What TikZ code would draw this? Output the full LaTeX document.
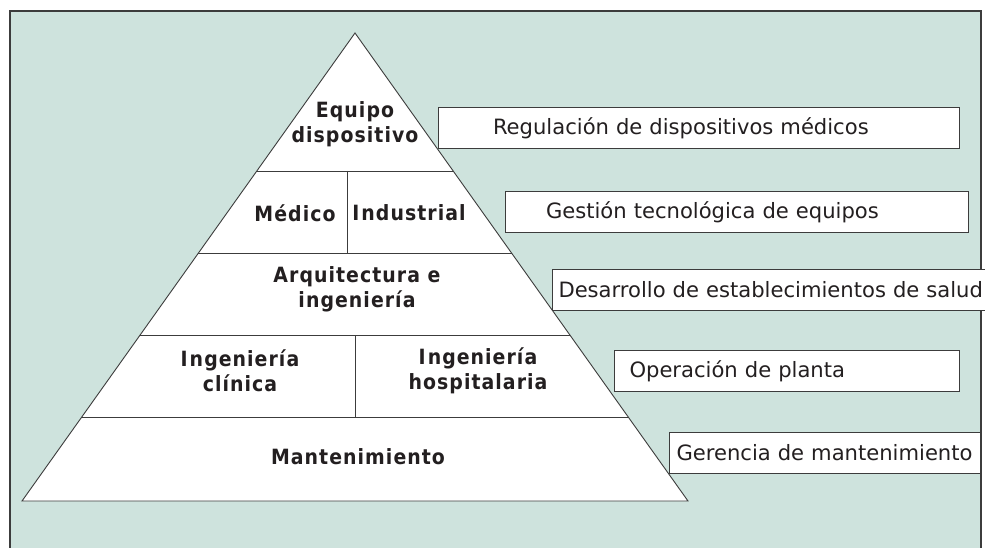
\documentclass[tikz,border=0pt]{standalone}
\usepackage{fontspec}
\setmainfont{DejaVu Sans}
\newfontfamily\pyrfont[FakeStretch=0.9,LetterSpace=5]{DejaVu Sans Bold}
\usetikzlibrary{calc}
\definecolor{bgteal}{RGB}{206,227,221}
\definecolor{inkc}{RGB}{35,31,32}
\definecolor{linec}{RGB}{60,60,60}
\tikzset{
  pyrline/.style={draw=linec, line width=0.9pt},
  pyrtext/.style={text=inkc, font=\pyrfont\fontsize{21}{25}\selectfont, align=center, inner sep=0pt},
  rbox/.style={draw=linec, line width=1pt, fill=white, anchor=north west, minimum height=41pt,
     text=inkc, font=\fontsize{21.1}{24}\selectfont, align=left, inner ysep=0pt},
}
\begin{document}
\begin{tikzpicture}[x=1pt,y=-1pt]
\useasboundingbox (0,0) rectangle (985,548);
% frame
\fill[white] (0,0) rectangle (985,548);
\draw[draw=linec, line width=1.2pt, fill=bgteal] (10,11) rectangle (981,570);
% pyramid
\coordinate (A) at (355,33);
\coordinate (BL) at (22,501);
\coordinate (BR) at (688,501);
\draw[pyrline, fill=white, line join=miter] (A) -- (BL) -- (BR) -- cycle;
\coordinate (L1) at ($(A)!{138/468}!(BL)$);
\coordinate (R1) at ($(A)!{138/468}!(BR)$);
\coordinate (L2) at ($(A)!{220/468}!(BL)$);
\coordinate (R2) at ($(A)!{220/468}!(BR)$);
\coordinate (L3) at ($(A)!{302/468}!(BL)$);
\coordinate (R3) at ($(A)!{302/468}!(BR)$);
\coordinate (L4) at ($(A)!{384/468}!(BL)$);
\coordinate (R4) at ($(A)!{384/468}!(BR)$);
\draw[pyrline] (L1) -- (R1);
\draw[pyrline] (L2) -- (R2);
\draw[pyrline] (L3) -- (R3);
\draw[pyrline] (L4) -- (R4);
\coordinate (V1t) at (347,171);
\coordinate (V1b) at (347,253);
\coordinate (V2t) at (355,335);
\coordinate (V2b) at (355,417);
\draw[pyrline] (V1t) -- (V1b);
\draw[pyrline] (V2t) -- (V2b);
% pyramid texts
\node[pyrtext] (equipo) at (355,124.5) {Equipo\\dispositivo};
\node[pyrtext] (medico) at (295,213) {Médico};
\node[pyrtext] (industrial) at (409,213) {I\kern2pt ndustrial};
\node[pyrtext] (arq) at (357,289.5) {Arquitectura e\\ingeniería};
\node[pyrtext] (ingcli) at (240,370.5) {I\kern2pt ngeniería\\clínica};
\node[pyrtext] (inghos) at (478,370.5) {I\kern2pt ngeniería\\hospitalaria};
\node[pyrtext] (mant) at (358,457) {Mantenimiento};
% right boxes
\node[rbox, minimum width=521pt, text width=411pt, inner xsep=55pt] (b1) at (437.5,107) {Regulación de dispositivos médicos};
\node[rbox, minimum width=463pt, text width=381pt, inner xsep=41pt] (b2) at (504.5,191) {Gestión tecnológica de equipos};
\node[rbox, minimum width=450pt, text width=438pt, inner xsep=6pt] (b3) at (552,269) {Desarrollo de establecimientos de salud};
\node[rbox, minimum width=345pt, text width=315pt, inner xsep=15pt] (b4) at (614,350) {Operación de planta};
\node[rbox, minimum width=311pt, text width=297pt, inner xsep=7pt] (b5) at (669,432) {Gerencia de mantenimiento};
\end{tikzpicture}
\end{document}
